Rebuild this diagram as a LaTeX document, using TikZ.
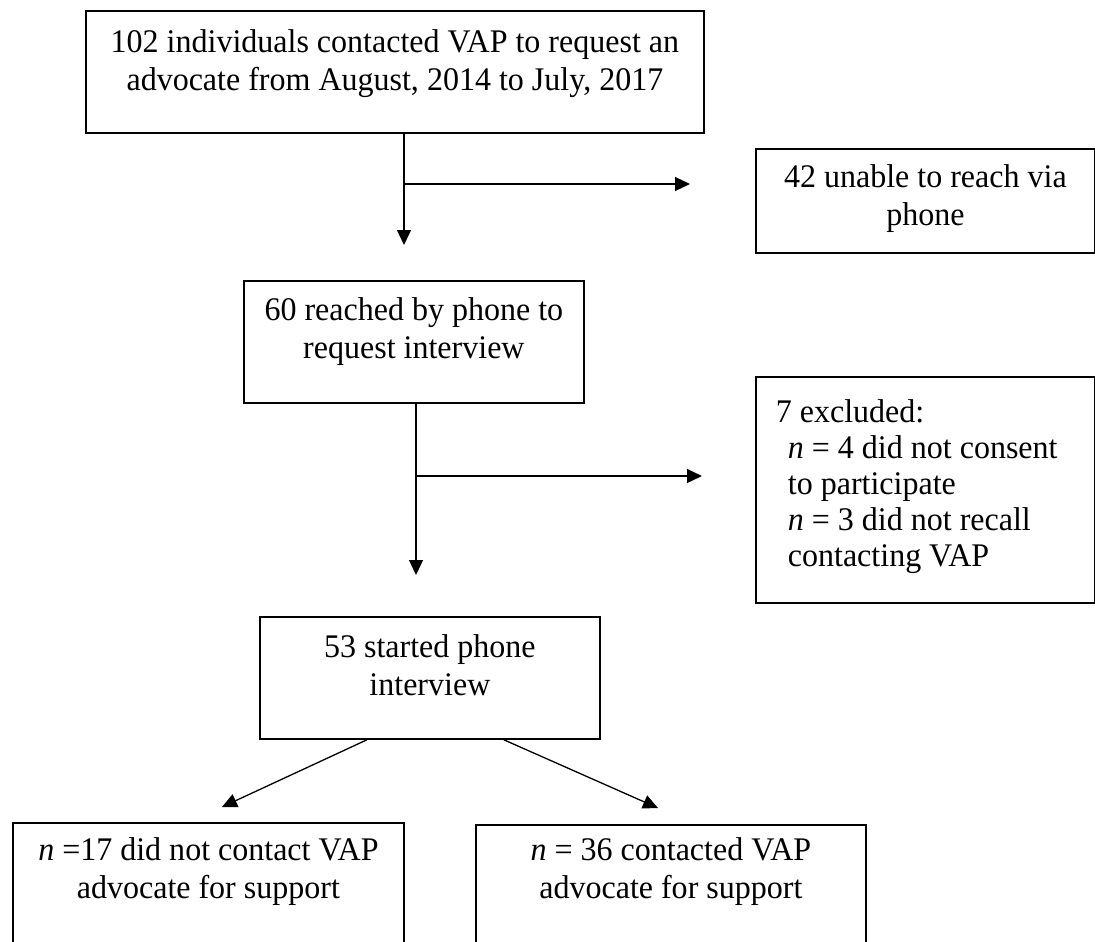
\documentclass[tikz,border=0pt]{standalone}
\usepackage{fontspec}
\setmainfont{Liberation Serif}[FakeStretch=0.97]
\usetikzlibrary{arrows.meta}

\begin{document}
\begin{tikzpicture}[x=1pt,y=-1pt,>={Triangle[length=15pt,width=14pt]},line width=1.3pt]
  \tikzstyle{box}=[draw=black,line width=1.8pt,anchor=north west,inner xsep=0pt,inner ysep=0pt,align=flush center,font=\fontsize{33}{38}\selectfont]
  \tikzstyle{flow}=[->]

  \useasboundingbox (0,0) rectangle (1095,942);
  \clip (0,0) rectangle (1095,942);

  \node[box,text width=618pt,text height=42pt,text depth=80pt] (s0) at (85,10)
    {102 individuals contacted VAP to request an\\advocate from August, 2014 to July, 2017};
  \node[box,text width=339pt,text height=39pt,text depth=65pt] (x1) at (755,148)
    {42 unable to reach via\\phone};
  \node[box,text width=340pt,text height=40pt,text depth=82pt] (s1) at (243,280)
    {60 reached by phone to\\request interview};
  \node[box,align=flush left,inner xsep=20pt,text width=299pt,text height=46pt,text depth=180pt,
        font=\fontsize{33}{36}\selectfont] (x2) at (755,376)
    {7 excluded:\\
     \hspace*{12pt}\textit{n} = 4 did not consent\\
     \hspace*{12pt}to participate\\
     \hspace*{12pt}\textit{n} = 3 did not recall\\
     \hspace*{12pt}contacting VAP};
  \node[box,text width=340pt,text height=41pt,text depth=81pt] (s2) at (259,616)
    {53 started phone\\interview};
  \node[box,text width=391pt,text height=38pt,text depth=200pt] (g1) at (12,822)
    {\textit{n} =17 did not contact VAP\\advocate for support};
  \node[box,text width=390pt,text height=36pt,text depth=200pt] (g2) at (475,824)
    {\textit{n} = 36 contacted VAP\\advocate for support};

  \coordinate (j1) at (404,184);
  \coordinate (j2) at (416,476);
  \coordinate (t1) at (222,807);
  \coordinate (t2) at (658,808);

  \draw[flow,shorten >=35pt] (s0.south -| j1) -- (j1 |- s1.north);
  \draw[flow,shorten >=65pt] (j1) -- (j1 -| x1.west);
  \draw[flow,shorten >=41pt] (s1.south -| j2) -- (j2 |- s2.north);
  \draw[flow,shorten >=53pt] (j2) -- (j2 -| x2.west);
  \draw[flow] ([xshift=-63pt]s2.south) -- (t1);
  \draw[flow] ([xshift=74pt]s2.south) -- (t2);
\end{tikzpicture}
\end{document}
